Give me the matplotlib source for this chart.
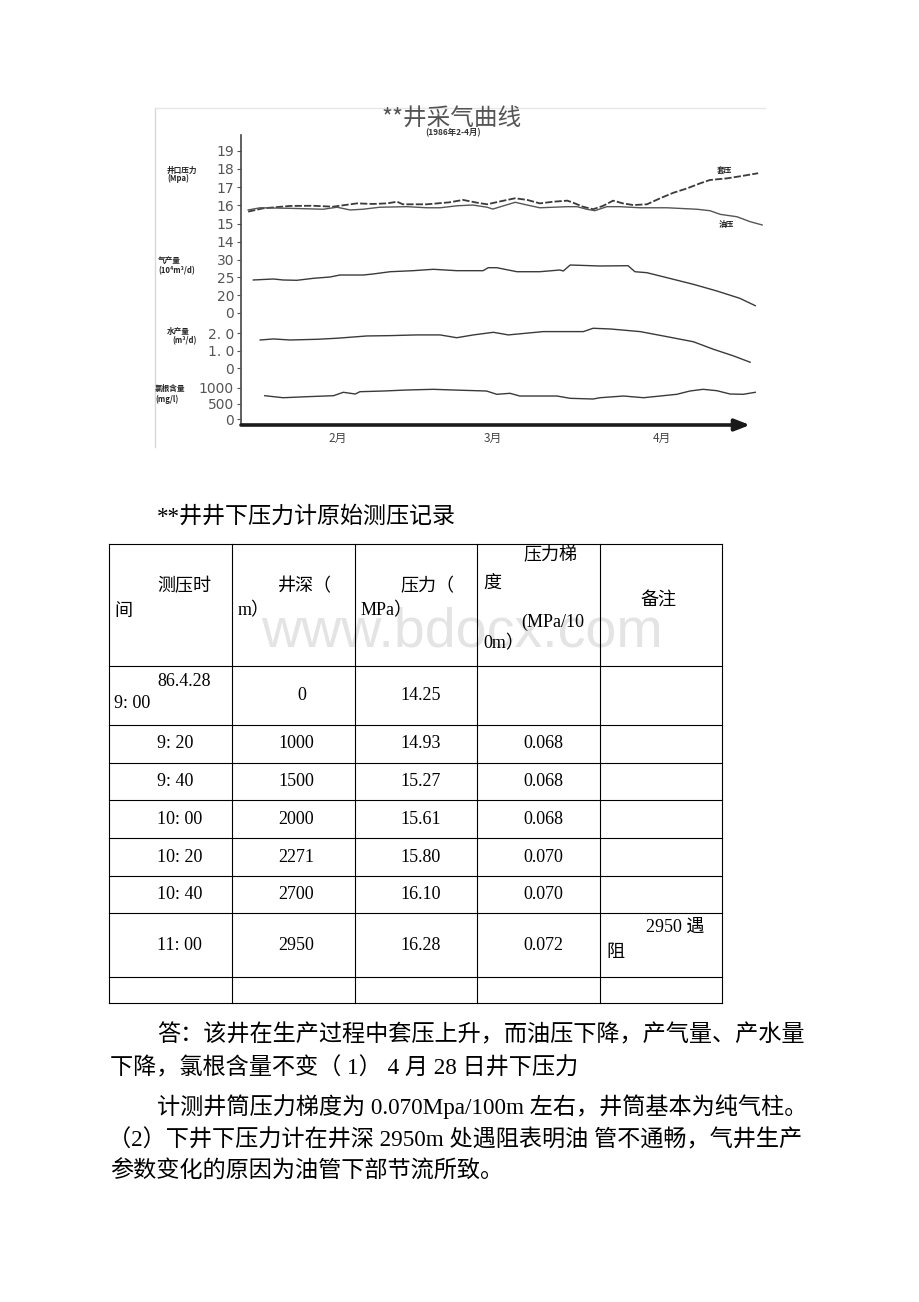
import matplotlib
matplotlib.use('Agg')
import matplotlib.pyplot as plt
from matplotlib.lines import Line2D

W, H = 920, 1302
CJK = ['Noto Sans CJK SC', 'DejaVu Sans']
SERIF = ['Liberation Serif', 'Noto Sans CJK SC']

# ---------------- chart data (day index from 1 Feb 1986) ----------------
casing_day = [0.2, 2.8, 7.5, 11.5, 15.0, 19.2, 22.0, 24.4, 26.2, 27.2, 31.4, 33.2, 35.4,
              37.7, 40.1, 41.9, 44.2, 46.8, 48.9, 51.1, 53.4, 55.9, 56.9, 58.6, 60.4,
              62.1, 63.9, 65.6, 67.4, 69.8, 72.1, 74.4, 76.8, 79.1, 80.8, 83.8, 86.6, 89.2]
casing_mpa = [15.66, 15.84, 15.97, 15.98, 15.93, 16.11, 16.08, 16.11, 16.20, 16.06, 16.06,
              16.11, 16.17, 16.30, 16.15, 16.06, 16.22, 16.39, 16.30, 16.11, 16.20, 16.26,
              16.15, 15.93, 15.79, 15.97, 16.26, 16.11, 16.02, 16.06, 16.39, 16.69, 16.93,
              17.21, 17.39, 17.48, 17.62, 17.76]

tubing_day = [0.2, 2.3, 7.5, 13.3, 15.7, 18.0, 20.2, 23.2, 27.9, 31.4, 33.7, 36.7, 39.4,
              41.9, 42.9, 44.7, 46.8, 48.9, 51.1, 55.9, 57.6, 59.3, 60.7, 62.8, 65.1,
              68.6, 73.3, 78.5, 80.8, 82.6, 85.5, 87.8, 89.9]
tubing_mpa = [15.75, 15.87, 15.84, 15.79, 15.90, 15.75, 15.79, 15.90, 15.93, 15.87, 15.87,
              15.98, 16.02, 15.90, 15.80, 15.97, 16.17, 16.02, 15.87, 15.93, 15.93, 15.79,
              15.71, 15.93, 15.93, 15.87, 15.87, 15.79, 15.71, 15.51, 15.38, 15.11, 14.93]

gas_day = [1.1, 4.6, 6.3, 8.7, 11.6, 14.5, 16.2, 20.3, 22.0, 25.0, 29.0, 32.5, 36.6, 41.2,
           42.1, 43.6, 45.6, 47.1, 51.1, 54.6, 55.2, 56.4, 61.6, 66.5, 67.7, 69.8, 73.3,
           77.9, 82.0, 86.0, 88.7]
gas_rate = [24.30, 24.58, 24.30, 24.21, 24.77, 25.14, 25.70, 25.70, 25.99, 26.63, 26.92,
            27.31, 26.92, 26.92, 27.76, 27.76, 27.11, 26.63, 26.63, 27.11, 26.83, 28.52,
            28.24, 28.32, 26.63, 26.35, 24.94, 23.08, 21.20, 19.14, 17.06]

water_day = [2.3, 4.6, 7.5, 12.2, 15.7, 20.9, 25.0, 29.6, 33.7, 36.6, 39.5, 43.0, 45.6,
             51.7, 58.7, 60.4, 63.4, 68.6, 73.3, 77.9, 81.4, 84.9, 87.8]
water_rate = [1.61, 1.67, 1.61, 1.65, 1.71, 1.84, 1.86, 1.90, 1.90, 1.74, 1.90, 2.05, 1.90,
              2.09, 2.09, 2.28, 2.24, 2.09, 1.80, 1.51, 1.08, 0.70, 0.34]

chloride_day = [3.1, 6.3, 10.4, 15.1, 16.8, 18.9, 19.7, 23.8, 27.9, 32.5, 36.0, 41.8, 43.6,
                45.9, 47.6, 54.1, 56.4, 60.4, 61.6, 65.7, 69.2, 75.0, 77.3, 79.6, 82.0,
                84.3, 86.6, 88.7]
chloride_mgl = [754, 690, 722, 754, 862, 808, 881, 903, 935, 957, 935, 903, 798, 830, 744,
                744, 671, 649, 690, 744, 690, 798, 903, 957, 913, 808, 798, 862]

months = ['2月', '3月', '4月']
p_ticks, p_labels = [14, 15, 16, 17, 18, 19], ['14', '15', '16', '17', '18', '19']
g_ticks, g_labels = [15, 20, 25, 30], ['0', '20', '25', '30']
w_ticks, w_labels = [0, 1, 2], ['0', '1. 0', '2. 0']
c_ticks, c_labels = [0, 500, 1000], ['0', '500', '1000']

# ---------------- table data ----------------
tbl_time = ['86.4.28\n9: 00', '9: 20', '9: 40', '10: 00', '10: 20', '10: 40', '11: 00']
tbl_depth = ['0', '1000', '1500', '2000', '2271', '2700', '2950']
tbl_press = ['14.25', '14.93', '15.27', '15.61', '15.80', '16.10', '16.28']
tbl_grad = ['', '0.068', '0.068', '0.068', '0.070', '0.070', '0.072']

body_lines = [
    '答：该井在生产过程中套压上升，而油压下降，产气量、产水量',
    '下降，氯根含量不变（ 1） 4 月 28 日井下压力',
    '计测井筒压力梯度为 0.070Mpa/100m 左右，井筒基本为纯气柱。',
    '（2）下井下压力计在井深 2950m 处遇阻表明油 管不通畅，气井生产',
    '参数变化的原因为油管下部节流所致。',
]

fig = plt.figure(figsize=(W / 100, H / 100), dpi=100)
fig.patch.set_facecolor('white')


def fx(x):
    return x / W


def fy(y):
    return 1 - y / H


def hline(x0, x1, y, **kw):
    fig.add_artist(Line2D([fx(x0), fx(x1)], [fy(y), fy(y)], transform=fig.transFigure, **kw))


def vline(x, y0, y1, **kw):
    fig.add_artist(Line2D([fx(x), fx(x)], [fy(y0), fy(y1)], transform=fig.transFigure, **kw))


# ---------------- chart ----------------
vline(155, 108, 447, color='#d8d8d8', lw=1.0)
hline(155, 765, 108, color='#e6e6e6', lw=1.0)

rect = [fx(241), fy(425), (765 - 241) / W, (425 - 135) / H]
axp = fig.add_axes(rect)
axg = fig.add_axes(rect, sharex=axp)
axw = fig.add_axes(rect, sharex=axp)
axc = fig.add_axes(rect, sharex=axp)

line_col = '#3a3a3a'
axp.plot(casing_day, casing_mpa, color=line_col, lw=1.3, ls=(0, (4, 1.2)))
axp.plot(tubing_day, tubing_mpa, color='#555555', lw=1.0)
axg.plot(gas_day, gas_rate, color=line_col, lw=1.0)
axw.plot(water_day, water_rate, color=line_col, lw=1.0)
axc.plot(chloride_day, chloride_mgl, color=line_col, lw=1.0)

axp.set_xlim(-1.05, 90.4)
axp.set_ylim(3.99, 19.85)
axg.set_ylim(-16.55, 65.14)
axw.set_ylim(-3.25, 13.33)
axc.set_ylim(-176, 9030)

for ax, tk, lb in [(axp, p_ticks, p_labels), (axg, g_ticks, g_labels),
                   (axw, w_ticks, w_labels), (axc, c_ticks, c_labels)]:
    ax.set_facecolor('none')
    for s in ax.spines.values():
        s.set_visible(False)
    ax.set_yticks(tk)
    ax.set_yticklabels(lb)
    ax.tick_params(axis='y', direction='out', length=3, width=0.8, colors='#555555',
                   labelsize=10, pad=2)
    ax.tick_params(axis='x', bottom=False, labelbottom=False)

axp.spines['left'].set_visible(True)
axp.spines['left'].set_color('#444444')
axp.spines['left'].set_linewidth(1.2)

axp.set_xticks([15.9, 42.9, 72.4])
axp.set_xticklabels(months, fontfamily=CJK)
axp.tick_params(axis='x', bottom=True, labelbottom=True, length=0, pad=5,
                labelsize=8.5, colors='#444444')

axp.annotate('', xy=((750 - 241) / (765 - 241), 0), xytext=(0, 0),
             xycoords='axes fraction', textcoords='axes fraction',
             arrowprops=dict(arrowstyle='-|>,head_length=0.9,head_width=0.35',
                             lw=2.6, color='#1a1a1a', shrinkA=0, shrinkB=0))

fig.text(fx(452), fy(119), '**井采气曲线', fontsize=17, family=CJK, color='#555555',
         ha='center', va='center')
fig.text(fx(453), fy(133), '(1986年2-4月)', fontsize=6, family=CJK, color='#333333',
         ha='center', va='center', weight='bold')

small = dict(fontsize=5.5, family=CJK, color='#222222', ha='left', va='center', weight='bold')
fig.text(fx(167), fy(170), '井口压力', **small)
fig.text(fx(167), fy(178), '(Mpa)', **small)
fig.text(fx(158), fy(261), '气产量', **small)
fig.text(fx(158), fy(271), '(10⁴m³/d)', **small)
fig.text(fx(167), fy(332), '水产量', **small)
fig.text(fx(172), fy(341), '(m³/d)', **small)
fig.text(fx(155), fy(389), '氯根含量', **small)
fig.text(fx(155), fy(399), '(mg/l)', **small)
fig.text(fx(717), fy(170), '套压', **small)
fig.text(fx(719), fy(224), '油压', **small)

# ---------------- watermark ----------------
fig.text(fx(462), fy(632), 'www.bdocx.com', fontsize=40, family=['Liberation Sans'],
         color='#e4e4e4', ha='center', va='center', zorder=0)

# ---------------- table ----------------
fig.text(fx(157), fy(517), '**井井下压力计原始测压记录', fontsize=16.6, family=SERIF,
         color='black', ha='left', va='center')

col_x = [109, 232, 355, 477, 600, 722]
row_y = [544, 666, 725, 763, 800, 838, 876, 913, 977, 1003]
for x in col_x:
    vline(x, row_y[0], row_y[-1], color='black', lw=0.8)
for y in row_y:
    hline(col_x[0], col_x[-1], y, color='black', lw=0.8)

cell = dict(fontsize=13, family=SERIF, color='black', ha='left', va='center')
fig.text(fx(157), fy(587), '测压时', **cell)
fig.text(fx(114), fy(611), '间', **cell)
fig.text(fx(278), fy(587), '井深（', **cell)
fig.text(fx(238), fy(611), 'm）', **cell)
fig.text(fx(400), fy(587), '压力（', **cell)
fig.text(fx(361), fy(611), 'MPa）', **cell)
fig.text(fx(523), fy(556), '压力梯', **cell)
fig.text(fx(483), fy(583), '度', **cell)
fig.text(fx(521), fy(622), '(MPa/10', **cell)
fig.text(fx(483), fy(644), '0m）', **cell)
fig.text(fx(640), fy(600), '备注', **cell)

for i in range(len(tbl_time)):
    top, bot = row_y[i + 1], row_y[i + 2]
    yc = (top + bot) / 2
    t = tbl_time[i]
    if '\n' in t:
        a, b = t.split('\n')
        fig.text(fx(157), fy(top + 15), a, **cell)
        fig.text(fx(114), fy(top + 38), b, **cell)
    else:
        fig.text(fx(157), fy(yc), t, **cell)
    dx = 297 if tbl_depth[i] == '0' else 278
    fig.text(fx(dx), fy(yc), tbl_depth[i], **cell)
    fig.text(fx(400), fy(yc), tbl_press[i], **cell)
    if tbl_grad[i]:
        fig.text(fx(523), fy(yc), tbl_grad[i], **cell)

fig.text(fx(646), fy(927), '2950 遇', **cell)
fig.text(fx(606), fy(952), '阻', **cell)

# ---------------- body text ----------------
body_pos = [(157, 1035), (110, 1068), (157, 1107), (108, 1140), (110, 1172)]
for (x, y), s in zip(body_pos, body_lines):
    fig.text(fx(x), fy(y), s, fontsize=16.7, family=SERIF, color='black',
             ha='left', va='center')

fig.savefig('out.png', dpi=100, facecolor='white')
